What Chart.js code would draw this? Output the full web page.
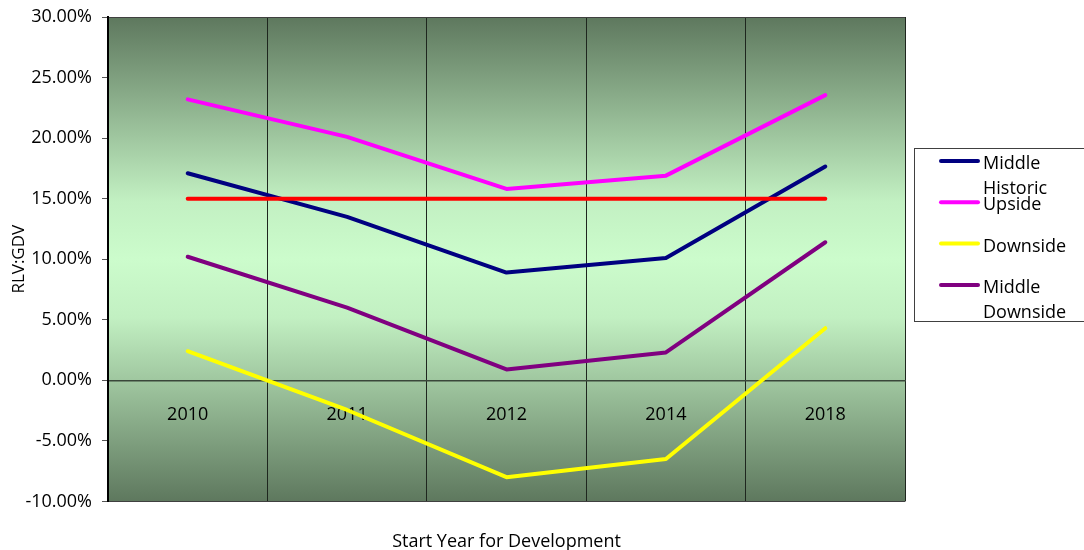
<!DOCTYPE html>
<html>
<head>
<meta charset="utf-8">
<title>RLV:GDV by start year</title>
<script src="https://cdn.jsdelivr.net/npm/chart.js@4.4.1/dist/chart.umd.min.js"></script>
<style>
  html, body { margin: 0; padding: 0; background: #fff; }
</style>
</head>
<body>
<canvas id="rlvChart" width="1084" height="550"></canvas>
<script>
// start years on the category axis
const years = ['2010', '2011', '2012', '2014', '2018'];

// RLV as a share of GDV, in percent
const middleHistoric = [17.1, 13.5, 8.9, 10.1, 17.65];
const upside = [23.2, 20.1, 15.8, 16.9, 23.55];
const downside = [2.4, -2.45, -8.0, -6.5, 4.3];
const middleDownside = [10.2, 6.0, 0.9, 2.3, 11.4];
const benchmark = [15, 15, 15, 15, 15];

// y axis range and step
const yMin = -10;
const yMax = 30;
const yStep = 5;

// only these appear in the side legend
const legendSeries = ['Middle Historic', 'Upside', 'Downside', 'Middle Downside'];

Chart.defaults.font.family = '"Open Sans", "Noto Sans", sans-serif';
Chart.defaults.font.size = 18;
Chart.defaults.color = '#000';

// green plot fill, dark at the edges and pale through the middle
const plotBackground = {
    id: 'plotBackground',
    beforeDraw(chart) {
        const { ctx, chartArea: a } = chart;
        const g = ctx.createLinearGradient(0, a.top, 0, a.bottom);
        g.addColorStop(0, '#5e785e');
        g.addColorStop(0.38, '#c2f0c2');
        g.addColorStop(0.5, '#ccfccc');
        g.addColorStop(0.62, '#c2f0c2');
        g.addColorStop(1, '#5e785e');
        ctx.save();
        ctx.fillStyle = g;
        ctx.fillRect(a.left, a.top, a.width, a.height);
        ctx.restore();
    }
};

// boxed legend on the right, long names wrap onto a second line
const sideLegend = {
    id: 'sideLegend',
    afterDraw(chart) {
        const ctx = chart.ctx;
        const box = { x: 914.5, y: 148.5, w: 190, h: 173 };
        ctx.save();
        ctx.strokeStyle = '#404040';
        ctx.lineWidth = 1;
        ctx.strokeRect(box.x, box.y, box.w, box.h);
        ctx.beginPath();
        ctx.rect(box.x, box.y, box.w, box.h);
        ctx.clip();
        ctx.font = '18px "Open Sans"';
        ctx.fillStyle = '#000';
        ctx.textBaseline = 'middle';
        const shown = chart.data.datasets.filter(ds => legendSeries.includes(ds.label));
        shown.forEach((ds, i) => {
            const y = 161 + i * 41.3;
            ctx.strokeStyle = ds.borderColor;
            ctx.lineWidth = 4;
            ctx.lineCap = 'round';
            ctx.beginPath();
            ctx.moveTo(941, y);
            ctx.lineTo(978, y);
            ctx.stroke();
            ds.label.split(' ').forEach((word, j) => {
                ctx.fillText(word, 983, y + 3 + j * 25);
            });
        });
        ctx.restore();
    }
};

const series = (label, data, color, order) => ({
    label: label,
    data: data,
    borderColor: color,
    backgroundColor: color,
    borderWidth: 4,
    borderCapStyle: 'round',
    borderJoinStyle: 'round',
    pointRadius: 0,
    pointHoverRadius: 0,
    tension: 0,
    fill: false,
    xAxisID: 'x',
    yAxisID: 'y',
    order: order
});

const edgeValues = [yMin, 0, yMax];

new Chart(document.getElementById('rlvChart'), {
    type: 'line',
    data: {
        labels: years,
        datasets: [
            series('Middle Historic', middleHistoric, '#000080', 1),
            series('Upside', upside, '#ff00ff', 2),
            series('Downside', downside, '#ffff00', 3),
            series('Middle Downside', middleDownside, '#800080', 4),
            series('Benchmark', benchmark, '#ff0000', 0)
        ]
    },
    options: {
        responsive: false,
        animation: false,
        layout: { padding: { top: 17, right: 179, bottom: 0, left: 0 } },
        plugins: {
            legend: { display: false },
            tooltip: { enabled: false }
        },
        scales: {
            x: {
                type: 'category',
                position: { y: 0 },
                offset: true,
                grid: { offset: true, color: '#1e261e', lineWidth: 1, drawTicks: false },
                border: { display: true, color: '#3a473a', width: 1.5 },
                ticks: { color: '#000', padding: 24, maxRotation: 0 }
            },
            xTitle: {
                type: 'category',
                position: 'bottom',
                labels: years,
                grid: { display: false },
                border: { display: false },
                ticks: { display: false },
                title: {
                    display: true,
                    text: 'Start Year for Development',
                    color: '#000',
                    padding: { top: 22, bottom: -3 }
                }
            },
            y: {
                min: yMin,
                max: yMax,
                ticks: {
                    stepSize: yStep,
                    padding: 10,
                    color: '#000',
                    callback: v => v.toFixed(2) + '%'
                },
                grid: {
                    color: c => edgeValues.includes(c.tick.value) ? '#404040' : 'rgba(0,0,0,0)',
                    tickColor: '#555',
                    tickLength: 6,
                    lineWidth: 1
                },
                border: { color: '#000', width: 2 },
                title: {
                    display: true,
                    text: 'RLV:GDV',
                    color: '#000',
                    font: { size: 17 },
                    padding: { top: 9, bottom: 0 }
                },
                afterFit(scale) {
                    scale.width = 108;
                    scale.paddingTop = 0;
                    scale.paddingBottom = 0;
                }
            }
        }
    },
    plugins: [plotBackground, sideLegend]
});
</script>
</body>
</html>
